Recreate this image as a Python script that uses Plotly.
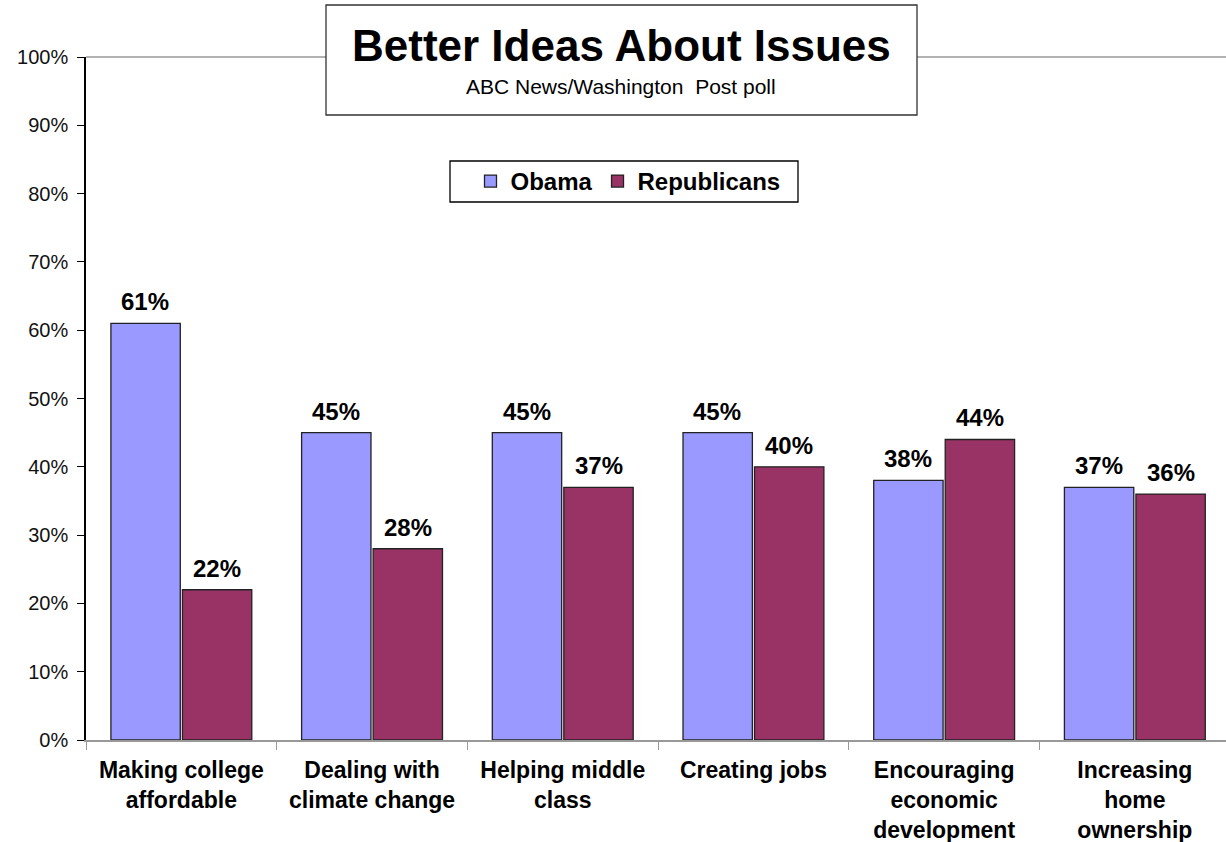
import plotly.graph_objects as go

categories = ["Making college<br>affordable", "Dealing with<br>climate change", "Helping middle<br>class",
              "Creating jobs", "Encouraging<br>economic<br>development", "Increasing<br>home<br>ownership"]
obama = [61, 45, 45, 45, 38, 37]
republicans = [22, 28, 37, 40, 44, 36]
y_ticks = [0, 10, 20, 30, 40, 50, 60, 70, 80, 90, 100]
y_tick_labels = [f"{v}%" for v in y_ticks]

W, H = 1226, 842
L, T, B = 86, 57, 102
PW = W - L
PH = H - T - B

def px(x):
    return (x - L) / PW

def py(y):
    return (H - B - y) / PH

FONT = "Liberation Sans, Arial, sans-serif"

fig = go.Figure()
fig.add_trace(go.Bar(name="Obama", x=categories, y=obama,
                     marker=dict(color="#9999FF", line=dict(color="#222222", width=1.3))))
fig.add_trace(go.Bar(name="Republicans", x=categories, y=republicans,
                     marker=dict(color="#993366", line=dict(color="#222222", width=1.3))))

cat_w = 190.7
bar_shift = 36  # half-distance between the two bars in a group, px

annotations = []
for cat, o, r in zip(categories, obama, republicans):
    for val, sh in ((o, -bar_shift), (r, bar_shift)):
        annotations.append(dict(x=cat, y=val, xref="x", yref="y", text=f"<b>{val}%</b>",
                                showarrow=False, xanchor="center", yanchor="bottom",
                                xshift=sh, yshift=6,
                                font=dict(family=FONT, size=24, color="black")))

annotations += [
    dict(text="<b>Better Ideas About Issues</b>", xref="paper", yref="paper",
         x=px(621), y=py(45), xanchor="center", yanchor="middle", showarrow=False,
         font=dict(family=FONT, size=44, color="black")),
    dict(text="ABC News/Washington  Post poll", xref="paper", yref="paper",
         x=px(621), y=py(87), xanchor="center", yanchor="middle", showarrow=False,
         font=dict(family=FONT, size=21, color="black")),
]

fig.update_layout(
    width=W, height=H,
    margin=dict(l=L, r=0, t=T, b=B, pad=0),
    paper_bgcolor="white", plot_bgcolor="white",
    barmode="group", bargap=0.25, bargroupgap=0.03,
    font=dict(family=FONT, color="black"),
    showlegend=True,
    legend=dict(orientation="h", x=px(628), y=py(181.5), xanchor="center", yanchor="middle",
                borderwidth=0, bgcolor="rgba(0,0,0,0)",
                font=dict(family=FONT, size=24, color="black", weight="bold"),
                itemwidth=30, tracegroupgap=0),
    xaxis=dict(range=[-0.5, -0.5 + PW / cat_w], tickson="boundaries", ticks="outside", ticklen=8,
               tickcolor="#999999", showline=True, linecolor="#999999", linewidth=1.5,
               tickfont=dict(family=FONT, size=23, color="black", weight="bold"),
               ticklabelstandoff=9,
               showgrid=False, fixedrange=True),
    yaxis=dict(range=[0, 100], tickvals=y_ticks, ticktext=y_tick_labels, ticks="outside", ticklen=7,
               tickcolor="black", showline=True, linecolor="black", linewidth=1.5,
               tickfont=dict(family=FONT, size=20, color="#111111"),
               ticklabelstandoff=5,
               showgrid=False, zeroline=False, fixedrange=True),
    shapes=[
        dict(type="line", xref="paper", yref="paper", x0=0, x1=1, y0=1, y1=1,
             line=dict(color="#999999", width=1.5), layer="below"),
        dict(type="rect", xref="paper", yref="paper", x0=px(326), x1=px(917), y0=py(115), y1=py(5),
             line=dict(color="#333333", width=1.3), fillcolor="white", layer="above"),
        dict(type="rect", xref="paper", yref="paper", x0=px(450), x1=px(798), y0=py(202), y1=py(161),
             line=dict(color="black", width=1.3), fillcolor="white", layer="below"),
    ],
    annotations=annotations,
)

fig.write_html("out.html", config={"displayModeBar": False},
               post_script="document.body.style.margin='0';document.body.style.overflow='hidden';")
